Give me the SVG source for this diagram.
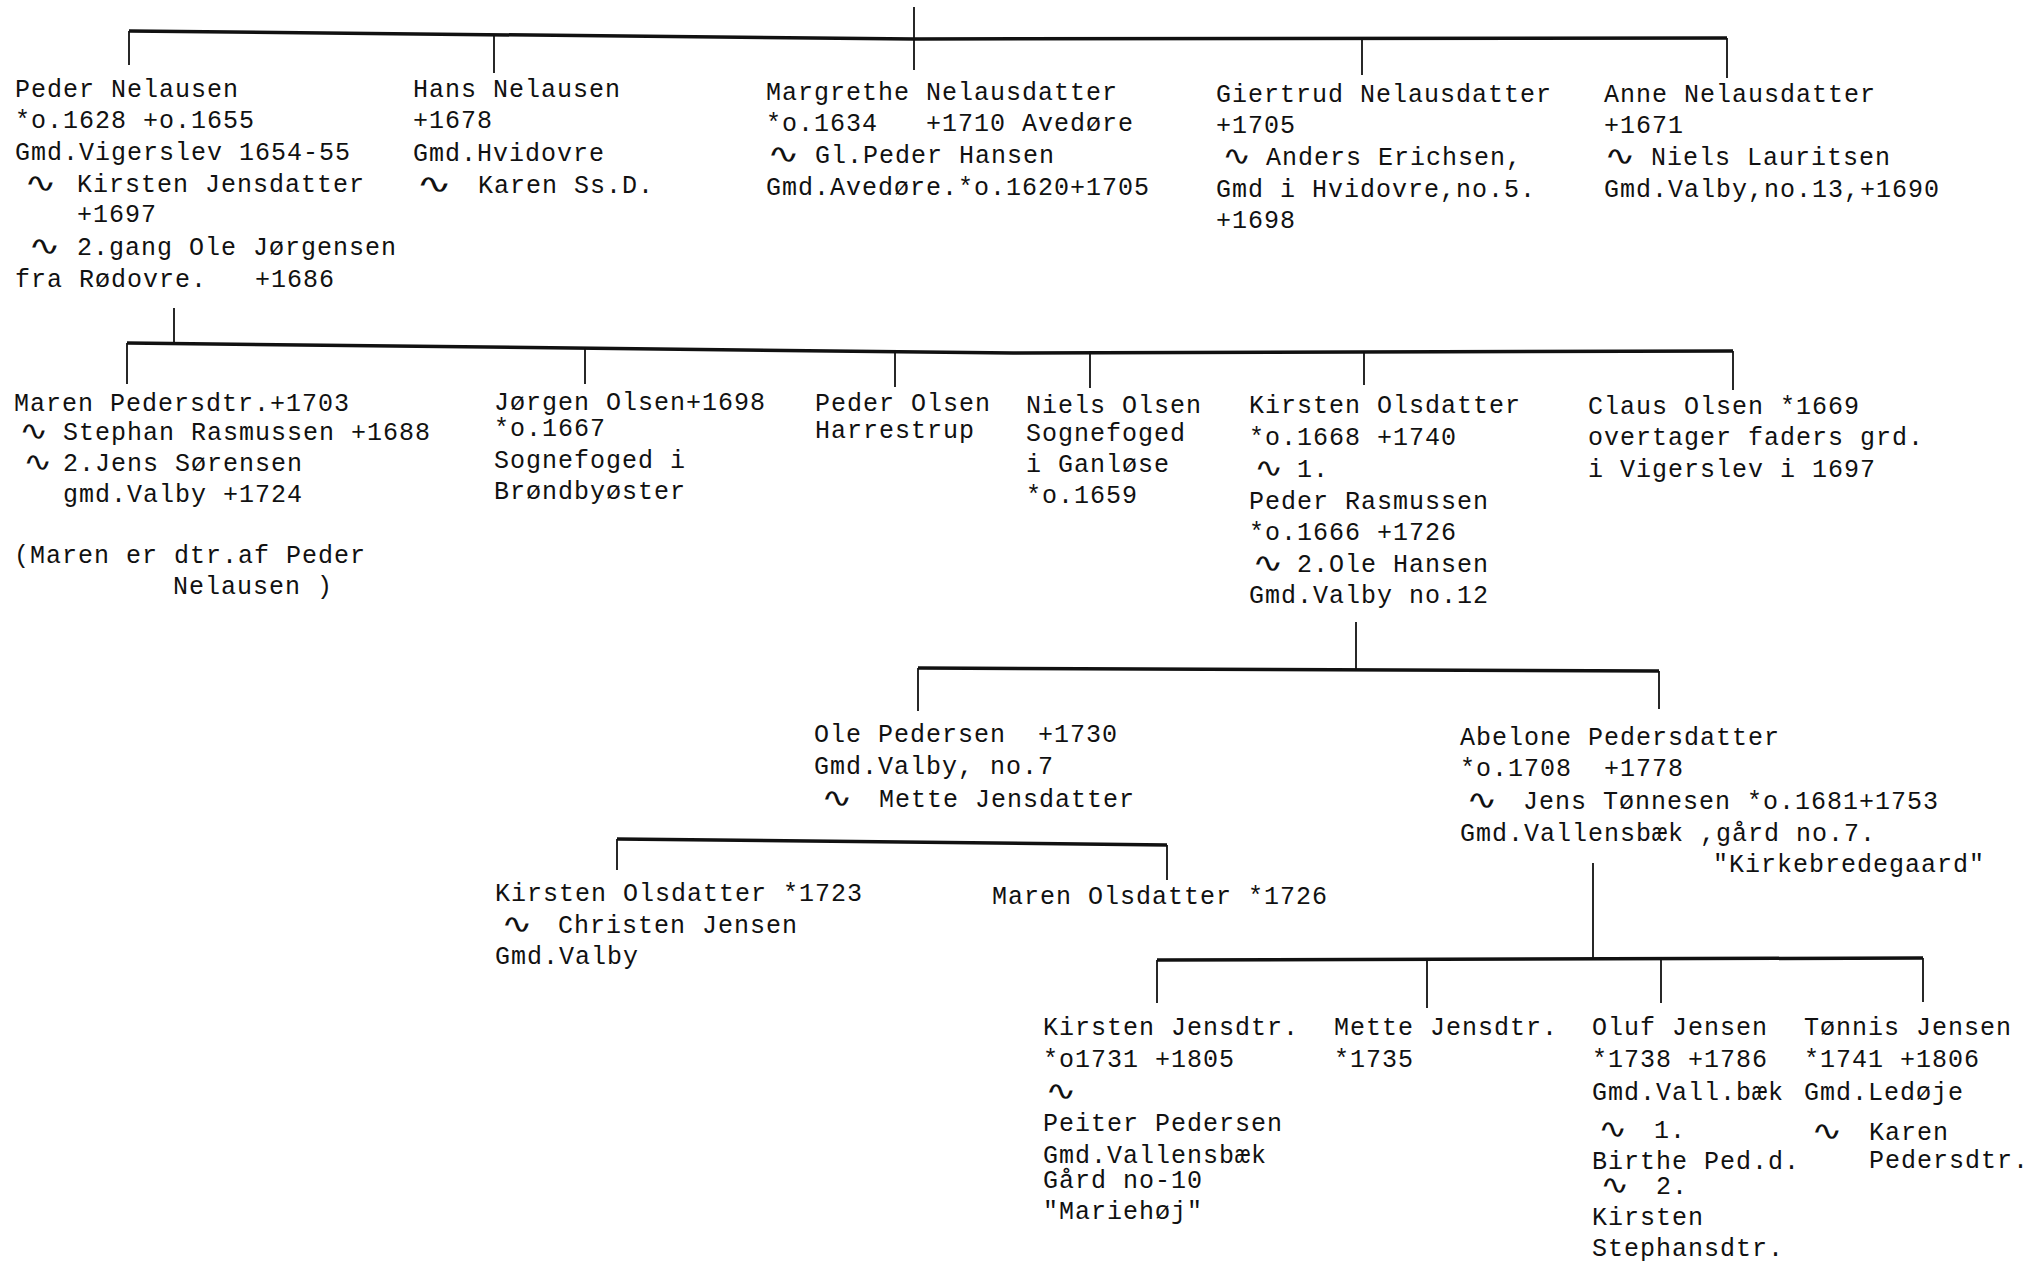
<svg xmlns="http://www.w3.org/2000/svg" width="2026" height="1262" viewBox="0 0 2026 1262">
<style>
text{font-family:"Liberation Mono","DejaVu Sans Mono",monospace;font-size:25px;letter-spacing:1px;fill:#111;white-space:pre}
text.m{font-family:"DejaVu Sans","DejaVu Sans Mono",sans-serif;font-size:27px;letter-spacing:0}
.h{stroke:#111;stroke-width:3.5;fill:none}
.v{stroke:#111;stroke-width:1.8;fill:none}
</style>
<rect width="2026" height="1262" fill="#fff"/>
<g id="connectors">
<line class="v" x1="914" y1="7" x2="914" y2="70"/>
<polyline class="h" points="129,31 914,39 1727,38"/>
<line class="v" x1="129" y1="31" x2="129" y2="65"/>
<line class="v" x1="494" y1="35" x2="494" y2="73"/>
<line class="v" x1="1362" y1="39" x2="1362" y2="75"/>
<line class="v" x1="1727" y1="38" x2="1727" y2="78"/>
<line class="v" x1="174" y1="308" x2="174" y2="344"/>
<polyline class="h" points="127,343 1013,353 1733,351"/>
<line class="v" x1="127" y1="343" x2="127" y2="384"/>
<line class="v" x1="585" y1="348" x2="585" y2="384"/>
<line class="v" x1="895" y1="351" x2="895" y2="387"/>
<line class="v" x1="1090" y1="353" x2="1090" y2="388"/>
<line class="v" x1="1364" y1="352" x2="1364" y2="385"/>
<line class="v" x1="1733" y1="351" x2="1733" y2="390"/>
<line class="v" x1="1356" y1="622" x2="1356" y2="669"/>
<polyline class="h" points="918,668 1659,671"/>
<line class="v" x1="918" y1="668" x2="918" y2="711"/>
<line class="v" x1="1659" y1="671" x2="1659" y2="709"/>
<polyline class="h" points="617,839 1167,845"/>
<line class="v" x1="617" y1="839" x2="617" y2="870"/>
<line class="v" x1="1167" y1="845" x2="1167" y2="880"/>
<line class="v" x1="1593" y1="863" x2="1593" y2="959"/>
<polyline class="h" points="1157,960 1923,958"/>
<line class="v" x1="1157" y1="960" x2="1157" y2="1003"/>
<line class="v" x1="1427" y1="959" x2="1427" y2="1008"/>
<line class="v" x1="1661" y1="959" x2="1661" y2="1003"/>
<line class="v" x1="1923" y1="958" x2="1923" y2="1002"/>
</g>
<g id="peder-nelausen">
<text x="15" y="97">Peder Nelausen</text>
<text x="15" y="128">*o.1628 +o.1655</text>
<text x="15" y="160">Gmd.Vigerslev 1654-55</text>
<text class="m" transform="translate(24 192) scale(1.45 1)">∿</text><text x="77" y="192">Kirsten Jensdatter</text>
<text x="77" y="222">+1697</text>
<text class="m" transform="translate(28 255) scale(1.45 1)">∿</text><text x="77" y="255">2.gang Ole Jørgensen</text>
<text x="15" y="287">fra Rødovre.   +1686</text>
</g>
<g id="hans-nelausen">
<text x="413" y="97">Hans Nelausen</text>
<text x="413" y="128">+1678</text>
<text x="413" y="161">Gmd.Hvidovre</text>
<text class="m" transform="translate(416 193) scale(1.6 1)">∿</text><text x="478" y="193">Karen Ss.D.</text>
</g>
<g id="margrethe-nelausdatter">
<text x="766" y="100">Margrethe Nelausdatter</text>
<text x="766" y="131">*o.1634   +1710 Avedøre</text>
<text class="m" transform="translate(767 163) scale(1.45 1)">∿</text><text x="815" y="163">Gl.Peder Hansen</text>
<text x="766" y="195">Gmd.Avedøre.*o.1620+1705</text>
</g>
<g id="giertrud-nelausdatter">
<text x="1216" y="102">Giertrud Nelausdatter</text>
<text x="1216" y="133">+1705</text>
<text class="m" transform="translate(1222 165) scale(1.3 1)">∿</text><text x="1266" y="165">Anders Erichsen,</text>
<text x="1216" y="197">Gmd i Hvidovre,no.5.</text>
<text x="1216" y="228">+1698</text>
</g>
<g id="anne-nelausdatter">
<text x="1604" y="102">Anne Nelausdatter</text>
<text x="1604" y="133">+1671</text>
<text class="m" transform="translate(1604 165) scale(1.4 1)">∿</text><text x="1651" y="165">Niels Lauritsen</text>
<text x="1604" y="197">Gmd.Valby,no.13,+1690</text>
</g>
<g id="maren-pedersdtr">
<text x="14" y="411">Maren Pedersdtr.+1703</text>
<text class="m" transform="translate(19 440) scale(1.3 1)">∿</text><text x="63" y="440">Stephan Rasmussen +1688</text>
<text class="m" transform="translate(23 471) scale(1.3 1)">∿</text><text x="63" y="471">2.Jens Sørensen</text>
<text x="63" y="502">gmd.Valby +1724</text>
<text x="14" y="563">(Maren er dtr.af Peder</text>
<text x="173" y="594">Nelausen )</text>
</g>
<g id="jorgen-olsen">
<text x="494" y="410">Jørgen Olsen+1698</text>
<text x="494" y="436">*o.1667</text>
<text x="494" y="468">Sognefoged i</text>
<text x="494" y="499">Brøndbyøster</text>
</g>
<g id="peder-olsen">
<text x="815" y="411">Peder Olsen</text>
<text x="815" y="438">Harrestrup</text>
</g>
<g id="niels-olsen">
<text x="1026" y="413">Niels Olsen</text>
<text x="1026" y="441">Sognefoged</text>
<text x="1026" y="472">i Ganløse</text>
<text x="1026" y="503">*o.1659</text>
</g>
<g id="kirsten-olsdatter">
<text x="1249" y="413">Kirsten Olsdatter</text>
<text x="1249" y="445">*o.1668 +1740</text>
<text class="m" transform="translate(1254 477) scale(1.3 1)">∿</text><text x="1297" y="477">1.</text>
<text x="1249" y="509">Peder Rasmussen</text>
<text x="1249" y="540">*o.1666 +1726</text>
<text class="m" transform="translate(1252 572) scale(1.4 1)">∿</text><text x="1297" y="572">2.Ole Hansen</text>
<text x="1249" y="603">Gmd.Valby no.12</text>
</g>
<g id="claus-olsen">
<text x="1588" y="414">Claus Olsen *1669</text>
<text x="1588" y="445">overtager faders grd.</text>
<text x="1588" y="477">i Vigerslev i 1697</text>
</g>
<g id="ole-pedersen">
<text x="814" y="742">Ole Pedersen  +1730</text>
<text x="814" y="774">Gmd.Valby, no.7</text>
<text class="m" transform="translate(821 807) scale(1.4 1)">∿</text><text x="879" y="807">Mette Jensdatter</text>
</g>
<g id="abelone-pedersdatter">
<text x="1460" y="745">Abelone Pedersdatter</text>
<text x="1460" y="776">*o.1708  +1778</text>
<text class="m" transform="translate(1466 809) scale(1.4 1)">∿</text><text x="1523" y="809">Jens Tønnesen *o.1681+1753</text>
<text x="1460" y="841">Gmd.Vallensbæk ,gård no.7.</text>
<text x="1713" y="872">"Kirkebredegaard"</text>
</g>
<g id="kirsten-olsdatter-1723">
<text x="495" y="901">Kirsten Olsdatter *1723</text>
<text class="m" transform="translate(501 933) scale(1.4 1)">∿</text><text x="558" y="933">Christen Jensen</text>
<text x="495" y="964">Gmd.Valby</text>
</g>
<g id="maren-olsdatter">
<text x="992" y="904">Maren Olsdatter *1726</text>
</g>
<g id="kirsten-jensdtr">
<text x="1043" y="1035">Kirsten Jensdtr.</text>
<text x="1043" y="1067">*o1731 +1805</text>
<text class="m" transform="translate(1045 1100) scale(1.4 1)">∿</text>
<text x="1043" y="1131">Peiter Pedersen</text>
<text x="1043" y="1163">Gmd.Vallensbæk</text>
<text x="1043" y="1188">Gård no-10</text>
<text x="1043" y="1219">"Mariehøj"</text>
</g>
<g id="mette-jensdtr">
<text x="1334" y="1035">Mette Jensdtr.</text>
<text x="1334" y="1067">*1735</text>
</g>
<g id="oluf-jensen">
<text x="1592" y="1035">Oluf Jensen</text>
<text x="1592" y="1067">*1738 +1786</text>
<text x="1592" y="1100">Gmd.Vall.bæk</text>
<text class="m" transform="translate(1598 1138) scale(1.3 1)">∿</text><text x="1654" y="1138">1.</text>
<text x="1592" y="1169">Birthe Ped.d.</text>
<text class="m" transform="translate(1600 1194) scale(1.3 1)">∿</text><text x="1656" y="1194">2.</text>
<text x="1592" y="1225">Kirsten</text>
<text x="1592" y="1256">Stephansdtr.</text>
</g>
<g id="tonnis-jensen">
<text x="1804" y="1035">Tønnis Jensen</text>
<text x="1804" y="1067">*1741 +1806</text>
<text x="1804" y="1100">Gmd.Ledøje</text>
<text class="m" transform="translate(1811 1140) scale(1.4 1)">∿</text><text x="1869" y="1140">Karen</text>
<text x="1869" y="1168">Pedersdtr.</text>
</g>
</svg>
